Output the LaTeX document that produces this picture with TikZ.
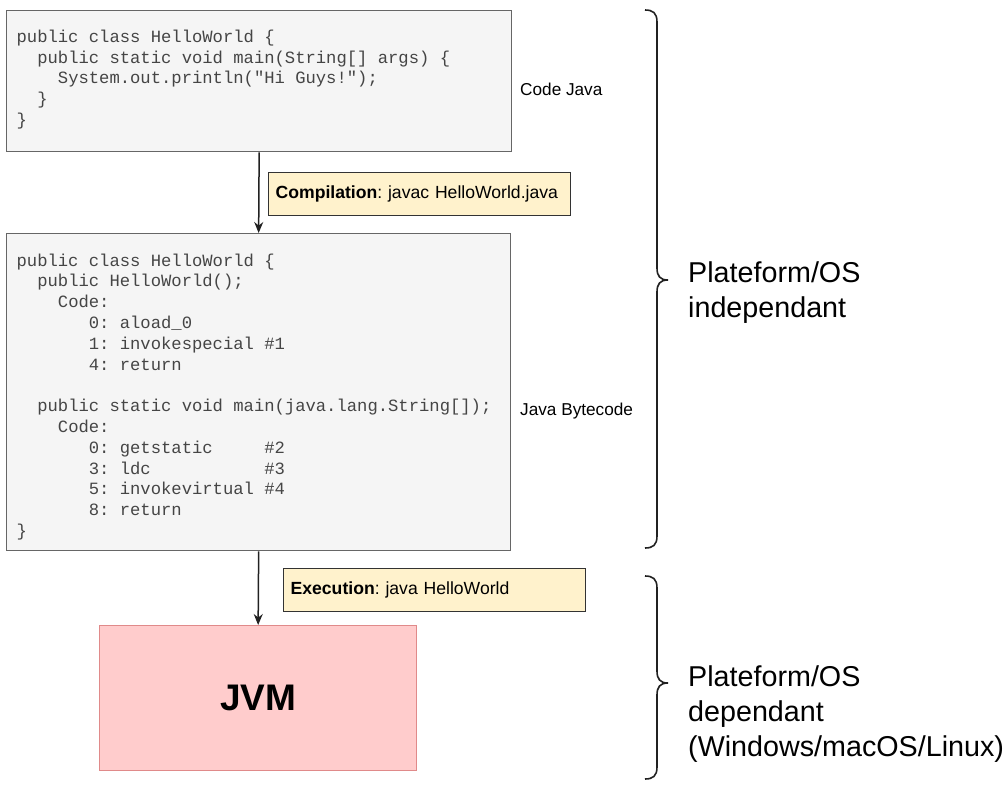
\documentclass[tikz,border=0pt]{standalone}
\usepackage{fontspec}
\setmainfont{Liberation Sans}
\setmonofont{Liberation Mono}
\usetikzlibrary{arrows.meta}
\definecolor{codefill}{HTML}{F5F5F5}
\definecolor{codeline}{HTML}{666666}
\definecolor{codetext}{HTML}{454545}
\definecolor{notefill}{HTML}{FFF2CC}
\definecolor{noteline}{HTML}{333333}
\definecolor{jvmfill}{HTML}{FFCCCC}
\definecolor{jvmline}{HTML}{E08A8A}
% one monospace character cell
\newcommand{\ks}{\hspace*{10.32pt}}
\newcommand{\kn}[1]{\hspace*{\dimexpr #1\dimexpr 10.32pt\relax\relax}}
\newcommand{\nospacefix}{\spaceskip=0pt\relax\xspaceskip=0pt\relax\frenchspacing}
\tikzset{
  codebox/.style={draw=codeline, fill=codefill, line width=1.3pt, anchor=north west,
    inner xsep=10pt, inner ysep=0pt, align=left, text=codetext,
    font=\ttfamily\fontsize{17.2}{20.8}\selectfont},
  notebox/.style={draw=noteline, fill=notefill, line width=1.3pt, anchor=north west,
    minimum width=302pt, minimum height=43pt, inner xsep=7pt, text width=288pt, align=left,
    font=\fontsize{17.6}{20}\selectfont\nospacefix},
  jvmbox/.style={draw=jvmline, fill=jvmfill, line width=1.3pt, anchor=north west,
    minimum width=317pt, minimum height=145pt, font=\bfseries\fontsize{37}{40}\selectfont},
  smalllabel/.style={anchor=base west, inner sep=0pt, font=\fontsize{17.2}{20}\selectfont},
  biglabel/.style={anchor=north west, inner sep=0pt, align=left, font=\fontsize{28.7}{35}\selectfont},
  flow/.style={draw=black!87, line width=1.5pt, -{Stealth[length=11pt,width=9pt]}},
  bracepath/.style={draw=black!87, line width=1.6pt}
}
\begin{document}
\begin{tikzpicture}[x=1pt,y=-1pt]
\useasboundingbox (0,0) rectangle (1007,785);

\node[codebox, minimum width=505pt, minimum height=141pt, text width=485pt] (src) at (6,10) {%
public\ks class\ks HelloWorld\ks\{\\
\kn{2}public\ks static\ks void\ks main(String[]\ks args)\ks\{\\
\kn{4}System.out.println("Hi\ks Guys!");\\
\kn{2}\}\\
\}\rule[-7pt]{0pt}{1pt}};

\node[codebox, minimum width=504pt, minimum height=317pt, text width=484pt] (bc) at (6,233) {%
\rule{0pt}{22pt}public\ks class\ks HelloWorld\ks\{\\
\kn{2}public\ks HelloWorld();\\
\kn{4}Code:\\
\kn{7}0:\ks aload\_0\\
\kn{7}1:\ks invokespecial\ks\#1\\
\kn{7}4:\ks return\\
\mbox{}\\
\kn{2}public\ks static\ks void\ks main(java.lang.String[]);\\
\kn{4}Code:\\
\kn{7}0:\ks getstatic\kn{5}\#2\\
\kn{7}3:\ks ldc\kn{11}\#3\\
\kn{7}5:\ks invokevirtual\ks\#4\\
\kn{7}8:\ks return\\
\}};

\node[jvmbox] (jvm) at (99,625) {JVM};

\node[notebox] (comp) at (268,172) {\textbf{Compilation}: javac HelloWorld.java};
\node[notebox] (exec) at (283,568) {\textbf{Execution}: java HelloWorld};

\node[smalllabel] (lsrc) at (520,95) {Code Java};
\node[smalllabel] (lbc) at (520,415) {Java Bytecode};

\draw[flow] (src.south) -- (bc.north);
\draw[flow] (bc.south) -- (jvm.north);

% braces
\coordinate (b1top) at (645,10);
\coordinate (b1tip) at (668,280);
\coordinate (b1bot) at (645,548);
\draw[bracepath] (b1top) .. controls (653,10) and (657,13) .. (657,22) -- (657,268)
  .. controls (657,276) and (660,280) .. (b1tip)
  .. controls (660,280) and (657,284) .. (657,292) -- (657,536)
  .. controls (657,545) and (653,548) .. (b1bot);

\coordinate (b2top) at (645,576);
\coordinate (b2tip) at (668,683);
\coordinate (b2bot) at (645,779);
\draw[bracepath] (b2top) .. controls (653,576) and (657,579) .. (657,588) -- (657,671)
  .. controls (657,679) and (660,683) .. (b2tip)
  .. controls (660,683) and (657,687) .. (657,695) -- (657,767)
  .. controls (657,776) and (653,779) .. (b2bot);

\node[biglabel] (indep) at (688,261) {Plateform/OS\\independant};
\node[biglabel] (dep) at (688,665) {Plateform/OS\\dependant\\(Windows/macOS/Linux)};
\end{tikzpicture}
\end{document}
